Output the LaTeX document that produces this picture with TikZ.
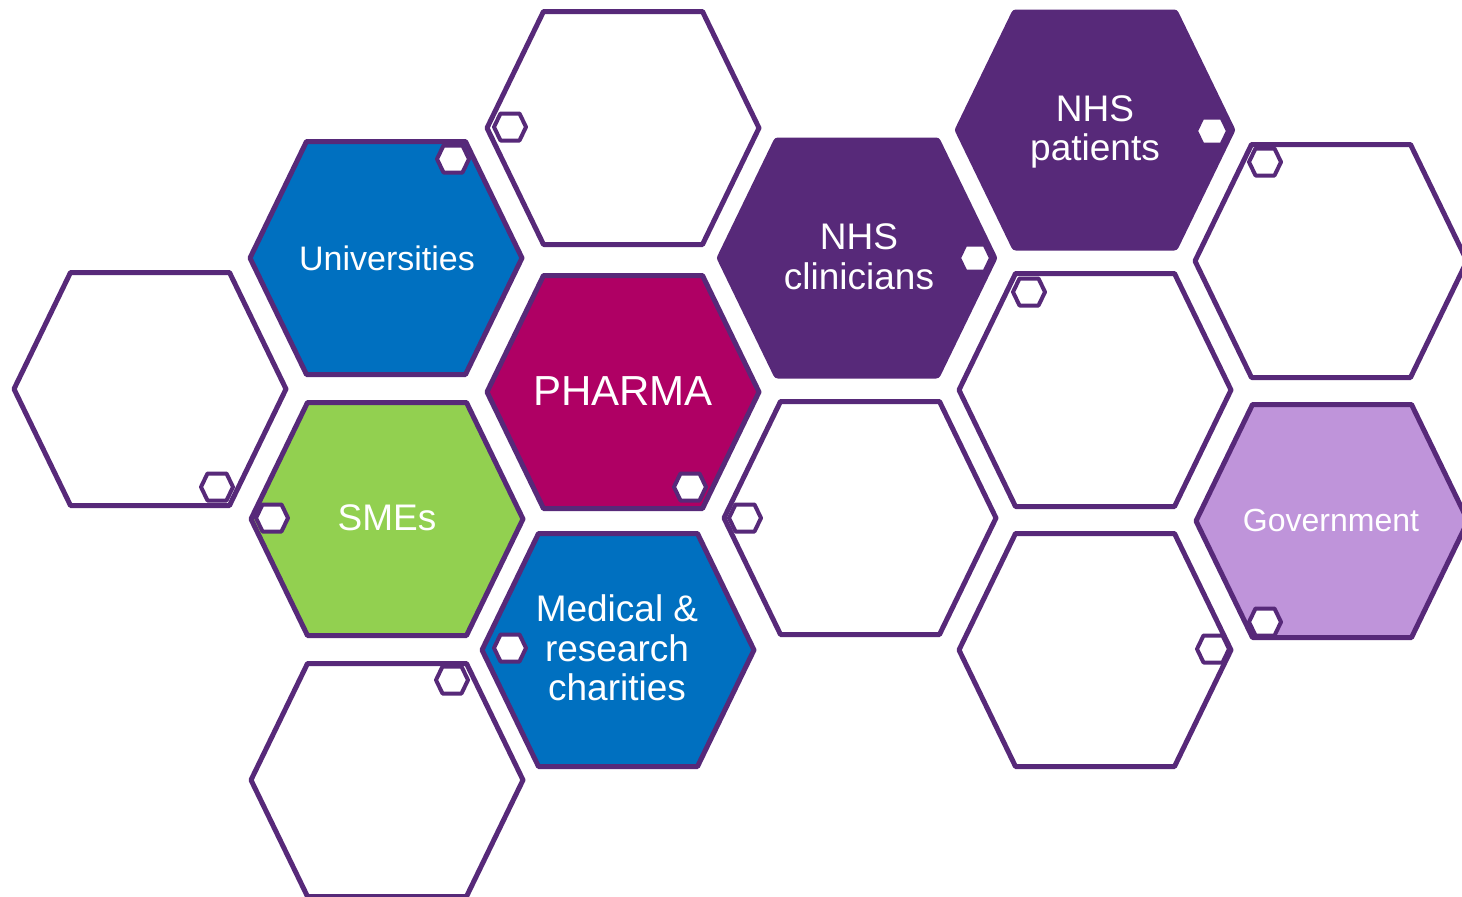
\documentclass[tikz,border=0pt]{standalone}
\usepackage{fontspec}
\setmainfont{Liberation Sans}
\usetikzlibrary{positioning}
\definecolor{nhspurple}{RGB}{87,41,121}
\definecolor{hexblue}{RGB}{0,112,192}
\definecolor{pharmared}{RGB}{175,0,100}
\definecolor{smegreen}{RGB}{146,208,80}
\definecolor{govlilac}{RGB}{191,148,218}
\tikzset{
  hexline/.style={draw=nhspurple, line width=5pt, line join=round},
  nhsline/.style={draw=nhspurple, fill=nhspurple, line width=10pt, line join=round},
  minihex/.style={draw=nhspurple, fill=white, line width=4pt, line join=round},
  hextext/.style={text=white, align=center, font=\fontsize{37}{39.5}\selectfont}
}

\begin{document}
\begin{tikzpicture}[x=1pt, y=-1pt]
      \useasboundingbox (0,0) rectangle (1462,897);
      \clip (0,0) rectangle (1462,897);
      % big hexagons
      \foreach \x/\y/\c in
      {623/128/white, 386/258/hexblue, 150/389/white, 623/392/pharmared,
       387/519/smegreen, 618/650/hexblue, 387/780/white, 860/518/white,
       1095/390/white, 1095/650/white, 1331/261/white, 1332/521/govlilac}{
        \draw[hexline, fill=\c] (\x-136,\y) -- ++(56.5,-116.5) -- ++(159,0)
          -- ++(56.5,116.5) -- ++(-56.5,116.5) -- ++(-159,0) -- cycle;
      }
      % NHS hexagons
      \foreach \x/\y in {857/258, 1095/130}{
        \draw[nhsline] (\x-135,\y) -- ++(56,-115.5) -- ++(158,0)
          -- ++(56,115.5) -- ++(-56,115.5) -- ++(-158,0) -- cycle;
      }
      % small hexagons
      \foreach \x/\y in
      {510/127, 453/159, 217/487, 272/518, 690/487, 745/518, 510/648,
       452/680, 975/258, 1212/131, 1029/292, 1265/162, 1265/622, 1213/649}{
        \draw[minihex] (\x-16,\y) -- ++(6.5,-13.5) -- ++(19,0)
          -- ++(6.5,13.5) -- ++(-6.5,13.5) -- ++(-19,0) -- cycle;
      }
      % labels
      \node[hextext, font=\fontsize{34}{40}\selectfont] (univ) at (387,258) {Universities};
      \node[hextext, font=\fontsize{42}{46}\selectfont] (pharma) at (623,391) {PHARMA};
      \node[hextext] (smes) at (387,518) {SMEs};
      \node[hextext] (charities) at (617,648) {Medical \&\\research\\charities};
      \node[hextext] (clinicians) at (859,257) {NHS\\clinicians};
      \node[hextext] (patients) at (1095,132) {NHS\\patients};
      \node[hextext, font=\fontsize{32}{36}\selectfont] (govt) at (1331,520) {Government};
\end{tikzpicture}
\end{document}
